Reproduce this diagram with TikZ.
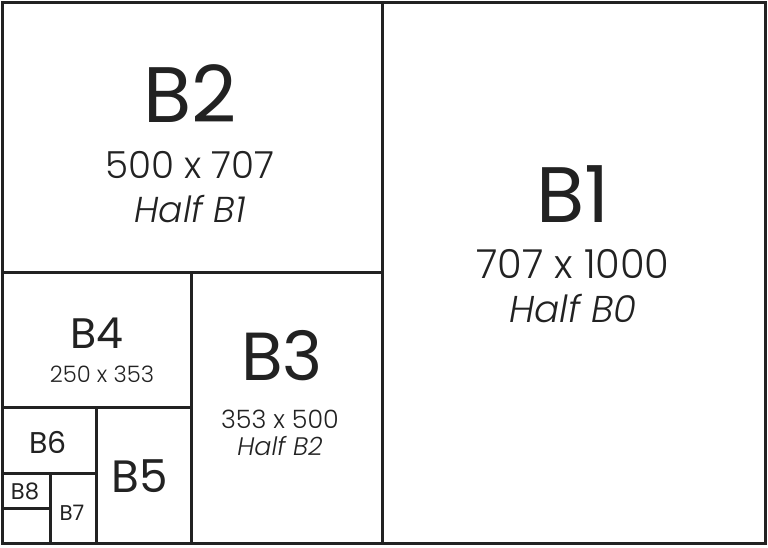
\documentclass[tikz,border=0pt]{standalone}
\usepackage{fontspec}
\setmainfont{Poppins}[UprightFont=* Light,ItalicFont=* Light Italic]
\newfontfamily\namefont{Poppins}
\usetikzlibrary{positioning}
\definecolor{ink}{HTML}{222222}
\tikzset{sheet/.style={draw=ink,line width=2.25pt}}
\tikzset{sheetname/.style={anchor=base,inner sep=0pt,text=ink,font=\namefont\fontsize{#1}{#1}\selectfont}}
\tikzset{dims/.style={anchor=base,inner sep=0pt,text=ink,font=\fontsize{#1}{#1}\selectfont}}
\tikzset{half/.style={anchor=base,inner sep=0pt,text=ink,font=\fontsize{#1}{#1}\selectfont\itshape}}

\begin{document}
\begin{tikzpicture}[x=0.75pt,y=-0.75pt]
	\useasboundingbox (0,0) rectangle (768,547);

	%% sheets
	\draw[sheet] (2,2) rectangle (765,543);
	\draw[sheet] (382,2) rectangle (765,543);
	\draw[sheet] (2,2) rectangle (382,272);
	\draw[sheet] (191,272) rectangle (382,543);
	\draw[sheet] (2,272) rectangle (191,407);
	\draw[sheet] (96,407) rectangle (191,543);
	\draw[sheet] (2,407) rectangle (96,473);
	\draw[sheet] (50,473) rectangle (96,543);
	\draw[sheet] (2,473) rectangle (50,508);

	% names and sizes
	\node[sheetname=59] (b1) at (573,222) {B1};
	\node[dims=30] (b1dims) at (573,278) {707 x 1000};
	\node[half=28] (b1half) at (573,322) {Half B0};

	\node[sheetname=59] (b2) at (190,122) {B2};
	\node[dims=28] (b2dims) at (190,178) {500 x 707};
	\node[half=27] (b2half) at (190,222) {Half B1};

	\node[sheetname=51] (b3) at (282,380) {B3};
	\node[dims=19] (b3dims) at (280,428) {353 x 500};
	\node[half=19] (b3half) at (280,455) {Half B2};

	\node[sheetname=32] (b4) at (97,348) {B4};
	\node[dims=17] (b4dims) at (102,382) {250 x 353};

	\node[sheetname=34] (b5) at (140,492) {B5};
	\node[sheetname=22.5] (b6) at (48,453) {B6};
	\node[sheetname=16] (b7) at (72,520) {B7};
	\node[sheetname=17] (b8) at (25,499) {B8};
\end{tikzpicture}
\end{document}
